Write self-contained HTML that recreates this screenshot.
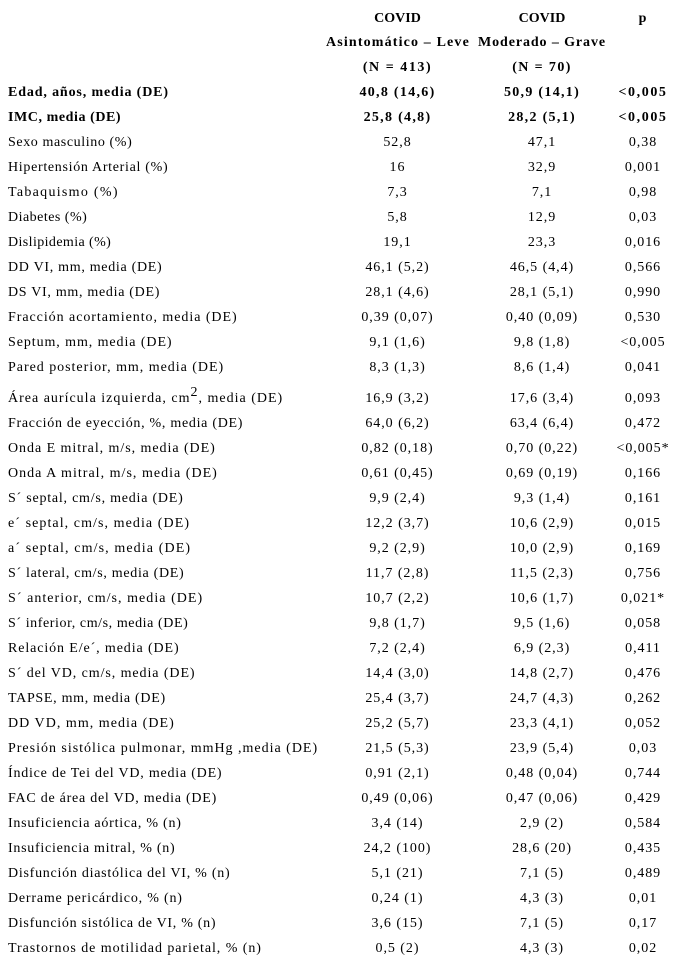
<!DOCTYPE html>
<html lang="es">
<head>
<meta charset="utf-8">
<title>COVID tabla</title>
<style>
html,body{margin:0;padding:0;background:#fff;}
body{width:681px;height:964px;overflow:hidden;position:relative;}
table{position:absolute;left:0;top:6px;border-collapse:collapse;table-layout:fixed;width:671px;font-family:"Liberation Serif",serif;font-size:14px;color:#000;letter-spacing:.95px;}
col.a{width:326px}col.b{width:143px}col.c{width:146px}col.d{width:56px}
td{padding:0;height:25px;line-height:25px;white-space:nowrap;text-align:center;vertical-align:middle;}
td:first-child{text-align:left;padding-left:8px;}
tr.h td{height:24.5px;line-height:24.5px;font-weight:bold;position:relative;top:1px;}
tr.h2 td{top:0;}
tr.s td{font-weight:bold;letter-spacing:1.3px;}
tr.s td:last-child{letter-spacing:1.6px;}
tr.t td{height:31px;line-height:25px;padding-top:0;vertical-align:bottom;}
sup{font-size:14px;line-height:0;vertical-align:6px;}
</style>
</head>
<body>
<table>
<colgroup><col class="a"><col class="b"><col class="c"><col class="d"></colgroup>
<tbody>
<tr class="h"><td></td><td style="letter-spacing:0">COVID</td><td style="letter-spacing:0">COVID</td><td>p</td></tr>
<tr class="h h2"><td></td><td style="letter-spacing:1.15px">Asintomático – Leve</td><td style="letter-spacing:.9px">Moderado – Grave</td><td></td></tr>
<tr class="h"><td></td><td style="letter-spacing:1.55px">(N = 413)</td><td style="letter-spacing:1.4px">(N = 70)</td><td></td></tr>
<tr class="s"><td style="letter-spacing:.86px">Edad, años, media (DE)</td><td>40,8 (14,6)</td><td>50,9 (14,1)</td><td>&lt;0,005</td></tr>
<tr class="s"><td style="letter-spacing:.57px">IMC, media (DE)</td><td>25,8 (4,8)</td><td>28,2 (5,1)</td><td>&lt;0,005</td></tr>
<tr><td style="letter-spacing:.6px">Sexo masculino (%)</td><td>52,8</td><td>47,1</td><td>0,38</td></tr>
<tr><td style="letter-spacing:.69px">Hipertensión Arterial (%)</td><td>16</td><td>32,9</td><td>0,001</td></tr>
<tr><td style="letter-spacing:1.29px">Tabaquismo (%)</td><td>7,3</td><td>7,1</td><td>0,98</td></tr>
<tr><td style="letter-spacing:.48px">Diabetes (%)</td><td>5,8</td><td>12,9</td><td>0,03</td></tr>
<tr><td style="letter-spacing:.4px">Dislipidemia (%)</td><td>19,1</td><td>23,3</td><td>0,016</td></tr>
<tr><td style="letter-spacing:.7px">DD VI, mm, media (DE)</td><td>46,1 (5,2)</td><td>46,5 (4,4)</td><td>0,566</td></tr>
<tr><td style="letter-spacing:.7px">DS VI, mm, media (DE)</td><td>28,1 (4,6)</td><td>28,1 (5,1)</td><td>0,990</td></tr>
<tr><td style="letter-spacing:.95px">Fracción acortamiento, media (DE)</td><td>0,39 (0,07)</td><td>0,40 (0,09)</td><td>0,530</td></tr>
<tr><td style="letter-spacing:.92px">Septum, mm, media (DE)</td><td>9,1 (1,6)</td><td>9,8 (1,8)</td><td>&lt;0,005</td></tr>
<tr><td style="letter-spacing:.97px">Pared posterior, mm, media (DE)</td><td>8,3 (1,3)</td><td>8,6 (1,4)</td><td>0,041</td></tr>
<tr class="t"><td style="letter-spacing:1px">Área aurícula izquierda, cm<sup>2</sup>, media (DE)</td><td>16,9 (3,2)</td><td>17,6 (3,4)</td><td>0,093</td></tr>
<tr><td style="letter-spacing:.71px">Fracción de eyección, %, media (DE)</td><td>64,0 (6,2)</td><td>63,4 (6,4)</td><td>0,472</td></tr>
<tr><td style="letter-spacing:.95px">Onda E mitral, m/s, media (DE)</td><td>0,82 (0,18)</td><td>0,70 (0,22)</td><td>&lt;0,005*</td></tr>
<tr><td style="letter-spacing:1.02px">Onda A mitral, m/s, media (DE)</td><td>0,61 (0,45)</td><td>0,69 (0,19)</td><td>0,166</td></tr>
<tr><td style="letter-spacing:.77px">S´ septal, cm/s, media (DE)</td><td>9,9 (2,4)</td><td>9,3 (1,4)</td><td>0,161</td></tr>
<tr><td style="letter-spacing:1.07px">e´ septal, cm/s, media (DE)</td><td>12,2 (3,7)</td><td>10,6 (2,9)</td><td>0,015</td></tr>
<tr><td style="letter-spacing:1.11px">a´ septal, cm/s, media (DE)</td><td>9,2 (2,9)</td><td>10,0 (2,9)</td><td>0,169</td></tr>
<tr><td style="letter-spacing:.69px">S´ lateral, cm/s, media (DE)</td><td>11,7 (2,8)</td><td>11,5 (2,3)</td><td>0,756</td></tr>
<tr><td style="letter-spacing:1.04px">S´ anterior, cm/s, media (DE)</td><td>10,7 (2,2)</td><td>10,6 (1,7)</td><td>0,021*</td></tr>
<tr><td style="letter-spacing:.58px">S´ inferior, cm/s, media (DE)</td><td>9,8 (1,7)</td><td>9,5 (1,6)</td><td>0,058</td></tr>
<tr><td style="letter-spacing:.89px">Relación E/e´, media (DE)</td><td>7,2 (2,4)</td><td>6,9 (2,3)</td><td>0,411</td></tr>
<tr><td style="letter-spacing:.92px">S´ del VD, cm/s, media (DE)</td><td>14,4 (3,0)</td><td>14,8 (2,7)</td><td>0,476</td></tr>
<tr><td style="letter-spacing:.7px">TAPSE, mm, media (DE)</td><td>25,4 (3,7)</td><td>24,7 (4,3)</td><td>0,262</td></tr>
<tr><td style="letter-spacing:1.03px">DD VD, mm, media (DE)</td><td>25,2 (5,7)</td><td>23,3 (4,1)</td><td>0,052</td></tr>
<tr><td style="letter-spacing:.99px">Presión sistólica pulmonar, mmHg ,media (DE)</td><td>21,5 (5,3)</td><td>23,9 (5,4)</td><td>0,03</td></tr>
<tr><td style="letter-spacing:.78px">Índice de Tei del VD, media (DE)</td><td>0,91 (2,1)</td><td>0,48 (0,04)</td><td>0,744</td></tr>
<tr><td style="letter-spacing:.75px">FAC de área del VD, media (DE)</td><td>0,49 (0,06)</td><td>0,47 (0,06)</td><td>0,429</td></tr>
<tr><td style="letter-spacing:.76px">Insuficiencia aórtica, % (n)</td><td>3,4 (14)</td><td>2,9 (2)</td><td>0,584</td></tr>
<tr><td style="letter-spacing:.73px">Insuficiencia mitral, % (n)</td><td>24,2 (100)</td><td>28,6 (20)</td><td>0,435</td></tr>
<tr><td style="letter-spacing:.74px">Disfunción diastólica del VI, % (n)</td><td>5,1 (21)</td><td>7,1 (5)</td><td>0,489</td></tr>
<tr><td style="letter-spacing:.8px">Derrame pericárdico, % (n)</td><td>0,24 (1)</td><td>4,3 (3)</td><td>0,01</td></tr>
<tr><td style="letter-spacing:.71px">Disfunción sistólica de VI, % (n)</td><td>3,6 (15)</td><td>7,1 (5)</td><td>0,17</td></tr>
<tr><td style="letter-spacing:.94px">Trastornos de motilidad parietal, % (n)</td><td>0,5 (2)</td><td>4,3 (3)</td><td>0,02</td></tr>
</tbody>
</table>
</body>
</html>
